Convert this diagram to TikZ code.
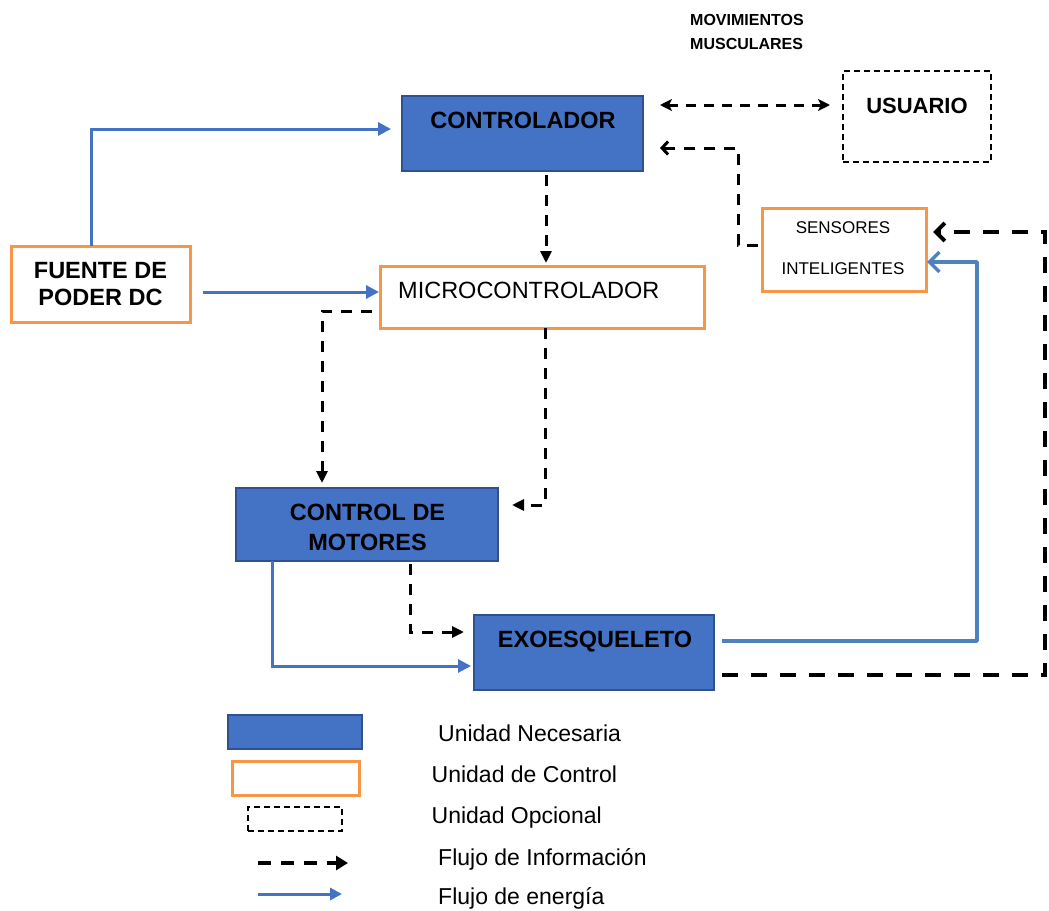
\documentclass[tikz,border=0pt]{standalone}
\usepackage{fontspec}
\setmainfont{Liberation Sans}
\usetikzlibrary{arrows.meta}
\definecolor{unitblue}{HTML}{4472C4}
\definecolor{unitedge}{HTML}{2F528F}
\definecolor{ctlorange}{HTML}{F79646}
\definecolor{flowblue}{HTML}{4472C4}
\definecolor{linkblue}{HTML}{4F81BD}

\begin{document}
\begin{tikzpicture}[x=1pt,y=-1pt,
  box/.style={rectangle, inner sep=0pt, outer sep=0pt},
  necbox/.style={box, fill=unitblue, draw=unitedge, line width=2pt},
  ctlbox/.style={box, fill=white, draw=ctlorange, line width=3pt},
  optbox/.style={box, draw=black, line width=1.8pt, dash pattern=on 6pt off 4pt},
  lbl/.style={inner sep=0pt, anchor=base, font=\fontsize{23.5}{29}\selectfont},
  lblb/.style={lbl, font=\fontsize{23.5}{29}\selectfont\bfseries},
  small/.style={inner sep=0pt, anchor=base, font=\fontsize{17}{20}\selectfont},
  smallb/.style={inner sep=0pt, anchor=base west, font=\fontsize{16}{20}\selectfont\bfseries},
  keytxt/.style={inner sep=0pt, anchor=base west, font=\fontsize{23}{28}\selectfont},
  info/.style={draw=black, line width=3pt, dash pattern=on 11pt off 9pt,
    -{Triangle[length=12pt,width=11pt]}},
  infobig/.style={draw=black, line width=4pt, dash pattern=on 16pt off 13pt,
    -{Straight Barb[length=9pt,width=18pt]}},
  energy/.style={draw=flowblue, line width=3pt,
    -{Triangle[length=13pt,width=13pt]}},
  energybig/.style={draw=linkblue, line width=3.5pt, line join=round,
    -{Straight Barb[length=10pt,width=20pt]}}
]
\useasboundingbox (0,0) rectangle (1049,910);

% ---- units ----
\node[necbox, minimum width=241pt, minimum height=75pt] (ctrl) at (522.5,133.5) {};
\node[optbox, minimum width=148pt, minimum height=91pt] (usu) at (917,116.5) {};
\node[ctlbox, minimum width=164pt, minimum height=83pt] (sens) at (844,249.5) {};
\node[ctlbox, minimum width=179pt, minimum height=76pt] (fuente) at (100.5,284) {};
\node[ctlbox, minimum width=324pt, minimum height=62pt] (micro) at (542,297) {};
\node[necbox, minimum width=262pt, minimum height=73pt] (cdm) at (367,524.5) {};
\node[necbox, minimum width=240pt, minimum height=75pt] (exo) at (594,652.5) {};

% ---- labels ----
\node[lblb] (ctrlT) at (523,128) {CONTROLADOR};
\node[lblb, font=\fontsize{22}{26}\selectfont\bfseries] (usuT) at (917,113) {USUARIO};
\node[smallb] (movA) at (690,25) {MOVIMIENTOS};
\node[smallb] (movB) at (690,49) {MUSCULARES};
\node[small] (sensA) at (843,233) {SENSORES};
\node[small] (sensB) at (843,274) {INTELIGENTES};
\node[lblb] (fuenteA) at (100.5,278) {FUENTE DE};
\node[lblb] (fuenteB) at (100.5,305) {PODER DC};
\node[lbl, anchor=base west] (microT) at (398,298) {MICROCONTROLADOR};
\node[lblb] (cdmA) at (367.5,520) {CONTROL DE};
\node[lblb] (cdmB) at (367.5,550) {MOTORES};
\node[lblb] (exoT) at (595,647) {EXOESQUELETO};

% ---- energy flow ----
\draw[energy, shorten >=11pt] (fuente.north -| 91,0) |- (ctrl.west |- 0,129);
\draw[energy, shorten <=13pt, shorten >=1pt] (fuente.east |- 0,292) -- (micro.west |- 0,292);
\draw[energy, shorten >=3pt] (cdm.south -| 272,0) |- (exo.west |- 0,666);
\draw[energybig, shorten <=8pt, shorten >=1pt] (exo.east |- 0,641) -| (977,262) -- (sens.east |- 0,262);

% ---- information flow ----
\draw[info, dash pattern=on 10pt off 8pt,
  {Stealth[length=12pt,width=12pt,inset=3pt]}-{Stealth[length=12pt,width=12pt,inset=3pt]},
  shorten <=17pt, shorten >=13pt] (ctrl.east |- 0,105) -- (usu.west |- 0,105);
\draw[info, -{Straight Barb[length=6pt,width=13pt]}, shorten <=4pt, shorten >=17pt]
  (sens.west |- 0,245) -| (738,148) -- (ctrl.east |- 0,148);
\draw[info, shorten <=4pt, shorten >=3pt] (ctrl.south -| 546,0) -- (micro.north -| 546,0);
\draw[info, shorten <=8pt, shorten >=5pt] (micro.west |- 0,311) -| (322,0 |- cdm.north);
\draw[info, shorten >=14pt] (micro.south -| 545,0) |- (cdm.east |- 0,505);
\draw[info, shorten <=3pt, shorten >=10pt] (cdm.south -| 410,0) |- (exo.west |- 0,632);
\draw[infobig, shorten <=8pt, shorten >=7pt] (exo.east |- 0,675) -| (1045,232) -- (sens.east |- 0,232);

% ---- key ----
\node[necbox, minimum width=134pt, minimum height=34pt] (keyNec) at (295,732) {};
\node[ctlbox, minimum width=127pt, minimum height=34pt] (keyCtl) at (295.5,778) {};
\node[optbox, minimum width=94pt, minimum height=24pt] (keyOpt) at (295,819) {};
\coordinate (keyInfoA) at (258,863);
\coordinate (keyInfoB) at (348,863);
\coordinate (keyPowA) at (258,894);
\coordinate (keyPowB) at (342,894);
\draw[info, line width=4.5pt, dash pattern=on 13pt off 10pt,
  -{Triangle[length=12pt,width=14pt]}] (keyInfoA) -- (keyInfoB);
\draw[energy, -{Triangle[length=12pt,width=12pt]}] (keyPowA) -- (keyPowB);

\node[keytxt] (keyNecT) at (438,741) {Unidad Necesaria};
\node[keytxt] (keyCtlT) at (431.5,782) {Unidad de Control};
\node[keytxt] (keyOptT) at (431.5,823) {Unidad Opcional};
\node[keytxt] (keyInfoT) at (438,865) {Flujo de Información};
\node[keytxt] (keyPowT) at (438,904) {Flujo de energía};
\end{tikzpicture}
\end{document}
